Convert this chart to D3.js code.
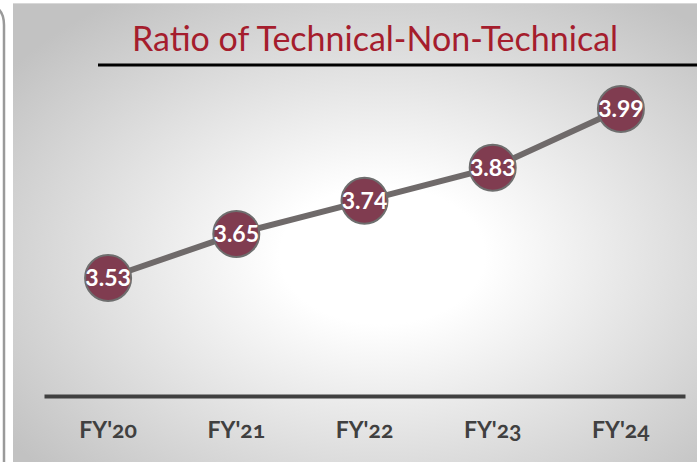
<!DOCTYPE html>
<html>
<head>
<meta charset="utf-8">
<script src="https://cdn.jsdelivr.net/npm/d3@7"></script>
<style>
  html, body { margin: 0; padding: 0; background: #fff; }
  svg { display: block; }
</style>
</head>
<body>
<svg id="chart"></svg>
<script>
// data
var categories = ["FY'20", "FY'21", "FY'22", "FY'23", "FY'24"];
var ratios = [3.53, 3.65, 3.74, 3.83, 3.99];
var title = "Ratio of Technical-Non-Technical";

var W = 697, H = 462;
var svg = d3.select("#chart").attr("width", W).attr("height", H);

// background panel with radial gradient
var defs = svg.append("defs");
var grad = defs.append("radialGradient").attr("id", "bg")
    .attr("cx", "0.54").attr("cy", "0.55").attr("r", "0.68");
grad.append("stop").attr("offset", "0.22").attr("stop-color", "#ffffff");
grad.append("stop").attr("offset", "1").attr("stop-color", "#c2c2c2");

// left frame bit (rounded corner of neighbour box)
svg.append("path")
    .attr("d", "M-20,3 Q4,3 4,25 L4,462")
    .attr("fill", "none").attr("stroke", "#9a9a9a").attr("stroke-width", 2.5);

svg.append("rect").attr("x", 13).attr("y", 3).attr("width", W - 13).attr("height", H - 3)
    .attr("fill", "url(#bg)");
svg.append("line").attr("x1", 13).attr("x2", W).attr("y1", 3.5).attr("y2", 3.5)
    .attr("stroke", "#d8d8d8").attr("stroke-width", 1);

// title
svg.append("text")
    .attr("x", 375).attr("y", 51)
    .attr("text-anchor", "middle")
    .attr("font-family", "Lato, 'Open Sans', sans-serif")
    .attr("font-size", 34)
    .attr("fill", "#a51d2d")
    .text(title);
svg.append("line").attr("x1", 98).attr("x2", W).attr("y1", 65).attr("y2", 65)
    .attr("stroke", "#000").attr("stroke-width", 3);

// scales
var x = d3.scaleBand().domain(categories).range([44, 685]);
var y = d3.scaleLinear().domain([3, 4.2]).range([472.7, 31.8]);
var cx = function(d, i) { return x(categories[i]) + x.bandwidth() / 2; };

// x axis
var xAxis = d3.axisBottom(x).tickSize(0).tickPadding(26);
var gx = svg.append("g").attr("transform", "translate(0,396)").call(xAxis);
gx.select(".domain").attr("stroke", "#404040").attr("stroke-width", 4);
gx.selectAll("text")
    .attr("font-family", "Lato, 'Open Sans', sans-serif")
    .attr("font-weight", "bold")
    .attr("font-size", 23)
    .attr("fill", "#404040")
    .style("font-variant-numeric", "oldstyle-nums");

// line
var line = d3.line().x(cx).y(function(d) { return y(d); });
svg.append("path").datum(ratios)
    .attr("d", line)
    .attr("fill", "none")
    .attr("stroke", "#6f6a6a")
    .attr("stroke-width", 6);

// markers
svg.selectAll(".dot").data(ratios).enter().append("circle")
    .attr("class", "dot")
    .attr("cx", cx)
    .attr("cy", function(d) { return y(d); })
    .attr("r", 23)
    .attr("fill", "#803c50")
    .attr("stroke", "#6e6e6e")
    .attr("stroke-width", 2);

// labels
svg.selectAll(".lbl").data(ratios).enter().append("text")
    .attr("class", "lbl")
    .attr("x", cx)
    .attr("y", function(d) { return y(d) + 8; })
    .attr("text-anchor", "middle")
    .attr("font-family", "Lato, 'Open Sans', sans-serif")
    .attr("font-weight", "bold")
    .attr("font-size", 23)
    .attr("fill", "#fff")
    .text(function(d) { return d.toFixed(2); });
</script>
</body>
</html>
